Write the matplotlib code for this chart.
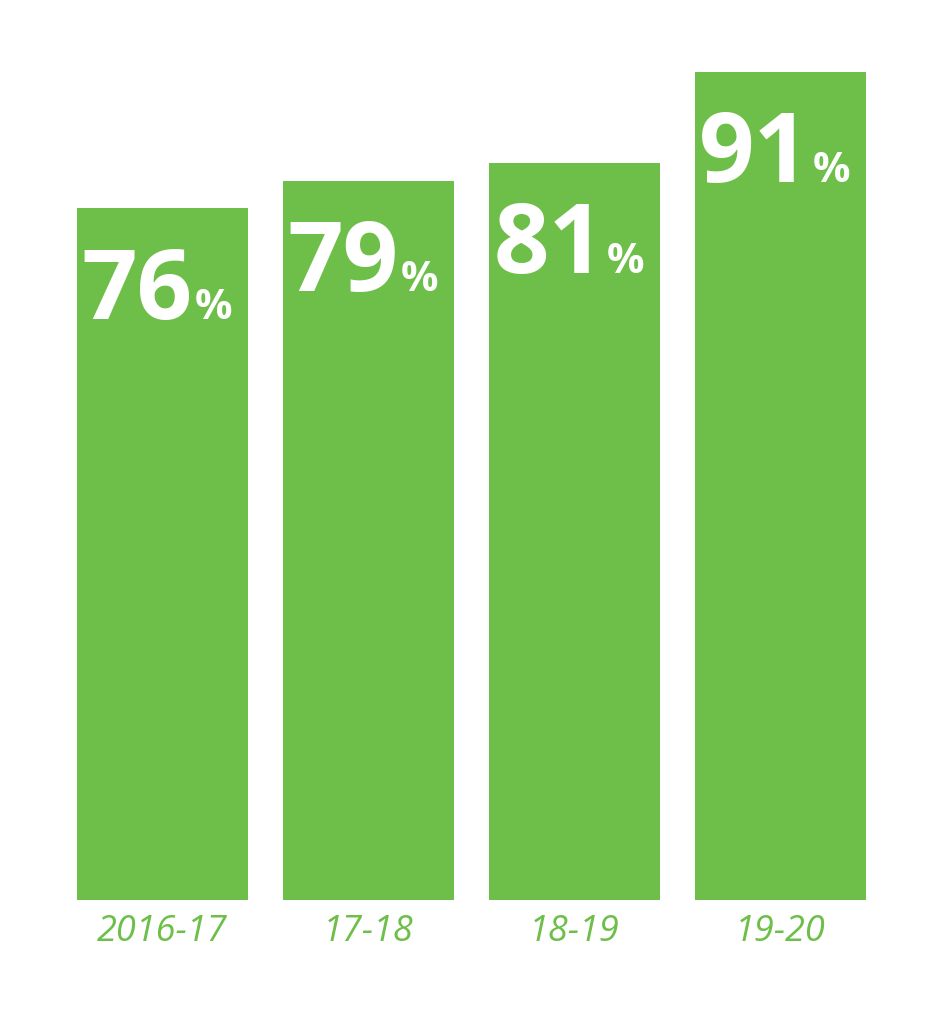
import matplotlib
matplotlib.use("Agg")
import matplotlib.pyplot as plt

categories = ["2016-17", "17-18", "18-19", "19-20"]
values = [76, 79, 81, 91]
green = "#6EBF4A"

fig = plt.figure(figsize=(9.51, 10.24), dpi=100)
ax = fig.add_axes([0, 124/1024, 1, 900/1024])
x = list(range(len(values)))
ax.bar(x, values, width=171/206, color=green)
ax.set_xlim(-162.5/206, (951-162.5)/206)
ax.set_ylim(0, 900/9.1)
ax.axis("off")
for xi, v, c in zip(x, values, categories):
    ax.text(xi + 30/206, v - 12.1, str(v), ha="right", va="baseline",
            color="white", fontsize=70, fontweight="bold", family="Open Sans")
    ax.text(xi + 32/206, v - 12.1, "%", ha="left", va="baseline",
            color="white", fontsize=30, fontweight="bold", family="Open Sans")
    ax.text(xi, -3.5, c, ha="center", va="center", color=green,
            fontsize=26, style="italic", family="Open Sans", clip_on=False)
fig.savefig("out.png", dpi=100)
